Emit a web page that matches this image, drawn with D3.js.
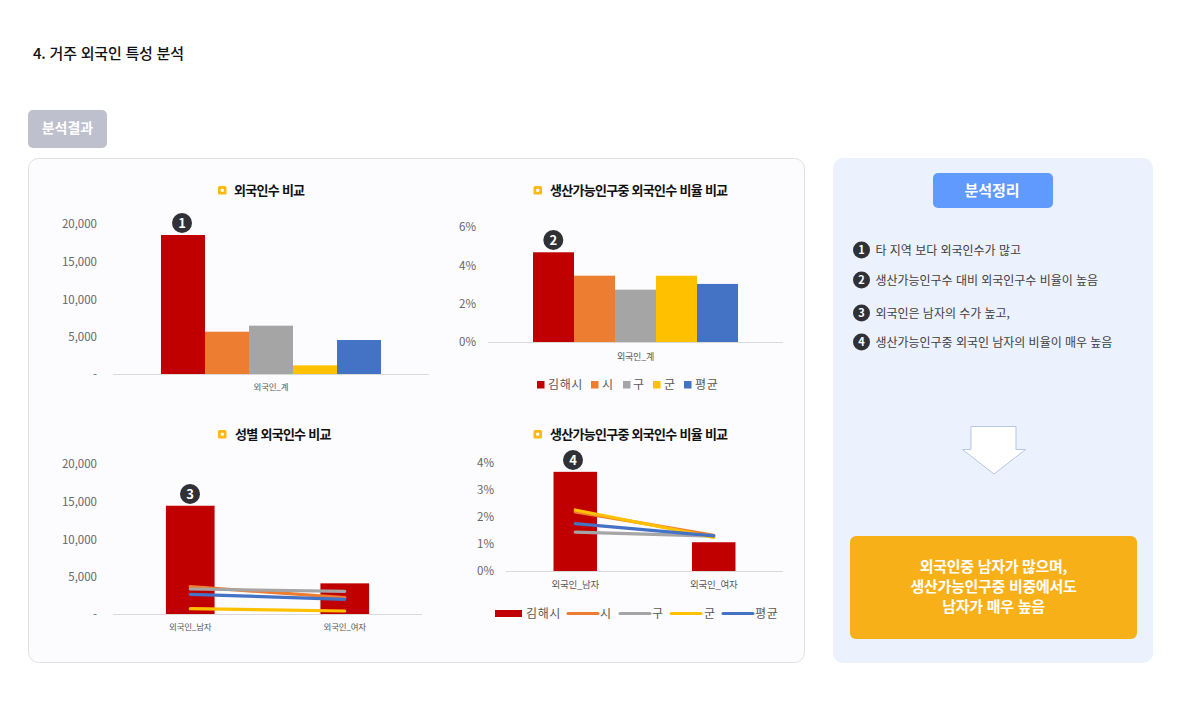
<!DOCTYPE html>
<html lang="ko"><head><meta charset="utf-8">
<script src="https://cdn.jsdelivr.net/npm/d3@7/dist/d3.min.js"></script>
<style>
html,body{margin:0;padding:0;background:#fff}
svg{display:block}
text{font-family:"Noto Sans CJK KR","Noto Sans",sans-serif}
</style></head><body>
<svg id="c" width="1181" height="709"></svg>
<script>
const seriesNames = ["김해시","시","구","군","평균"];
const seriesColors = ["#c00000","#ed7d31","#a5a5a5","#ffc000","#4472c4"];
const totalCategory = ["외국인_계"];
const genderCategories = ["외국인_남자","외국인_여자"];
const countTicks = [0,5000,10000,15000,20000];
const ratioTicks6 = [0,2,4,6];
const ratioTicks4 = [0,1,2,3,4];
const totalCounts = [18410,5600,6400,1150,4500];
const totalRatios = [4.68,3.46,2.73,3.46,3.03];
const genderCountBars = [14340,4060];
const genderCountSi = [3620,2160];
const genderCountGu = [3310,3000];
const genderCountGun = [700,400];
const genderCountAvg = [2610,1950];
const genderRatioBars = [3.69,1.07];
const genderRatioSi = [2.2,1.33];
const genderRatioGu = [1.45,1.3];
const genderRatioGun = [2.27,1.25];
const genderRatioAvg = [1.76,1.31];
const summaryItems = ["타 지역 보다 외국인수가 많고","생산가능인구수 대비 외국인구수 비율이 높음","외국인은 남자의 수가 높고,","생산가능인구중 외국인 남자의 비율이 매우 높음"];
const conclusionLines = ["외국인중 남자가 많으며,","생산가능인구중 비중에서도","남자가 매우 높음"];

const svg = d3.select("#c");
const T = (g,x,y,s,o={})=>g.append("text").attr("x",x).attr("y",y).attr("dy","0.35em")
  .attr("text-anchor",o.anchor||"start").attr("font-size",o.size||12).attr("font-weight",o.weight||400)
  .attr("fill",o.fill||"#000").attr("letter-spacing",o.ls||0).text(s);
const R = (x,y,w,h,r,fill,stroke)=>svg.append("rect").attr("x",x).attr("y",y).attr("width",w).attr("height",h).attr("rx",r)
  .attr("fill",fill).attr("stroke",stroke||"none");

// page furniture
T(svg,33,54,"4. 거주 외국인 특성 분석",{size:15,weight:500,fill:"#111",ls:-0.22});
R(28,110,79,38,5,"#bfc0ce");
T(svg,67.5,128.5,"분석결과",{size:14,weight:700,fill:"#fff",anchor:"middle",ls:0});
R(28.5,158.5,776,504,10,"#fcfcfe","#e0e0e4");
R(833,158,320,505,10,"#ebf1fd");
R(933,173,120,35,5,"#609afe");
T(svg,992,190.5,"분석정리",{size:15,weight:700,fill:"#fff",anchor:"middle",ls:0});

function badge(x,y,r,n,size){
  svg.append("circle").attr("cx",x).attr("cy",y).attr("r",r).attr("fill","#2f3136");
  T(svg,x,y,n,{size,weight:700,fill:"#fff",anchor:"middle"});
}
function title(iconX,textX,y,s){
  R(iconX,y-4,8.5,8.5,1.5,"#fdb813");
  R(iconX+2.75,y-1.25,3,3,0.5,"#fff");
  T(svg,textX,y,s,{size:13,weight:700,fill:"#111",ls:-0.72});
}
function frame(x0,x1,yBase,yTop,max,ticks,fmt,tickPad,tickDy,cats,catDy,catSize,pi,po){
  const x = d3.scaleBand().domain(cats).range([x0,x1]).paddingInner(pi).paddingOuter(po);
  const y = d3.scaleLinear().domain([0,max]).range([yBase,yTop]);
  const ya = svg.append("g").attr("transform",`translate(${x0},${tickDy})`)
    .call(d3.axisLeft(y).tickValues(ticks).tickSize(0).tickPadding(tickPad).tickFormat(fmt));
  ya.select(".domain").remove();
  ya.selectAll("text").attr("font-size",11.5).attr("fill","#666").attr("font-family",'"Noto Sans","Noto Sans CJK KR",sans-serif');
  return {x,y,x0,x1,yBase,catDy,catSize};
}
function baseline(f){
  svg.append("line").attr("x1",f.x0).attr("x2",f.x1).attr("y1",f.yBase+.5).attr("y2",f.yBase+.5)
    .attr("stroke","#d9d9d9").attr("stroke-width",1.2);
  f.x.domain().forEach(c=>T(svg,f.x(c)+f.x.bandwidth()/2,f.yBase+f.catDy,c,{size:f.catSize,fill:"#595959",anchor:"middle",ls:-0.25}));
}
function groupBars(f,vals){
  const inner = d3.scaleBand().domain(seriesNames).range([f.x(f.x.domain()[0]),f.x(f.x.domain()[0])+f.x.bandwidth()]);
  svg.append("g").selectAll("rect").data(vals).join("rect")
    .attr("x",(d,i)=>inner(seriesNames[i])).attr("width",inner.bandwidth())
    .attr("y",d=>f.y(d)).attr("height",d=>f.yBase-f.y(d)).attr("fill",(d,i)=>seriesColors[i]);
}
function comboBars(f,vals){
  svg.append("g").selectAll("rect").data(vals).join("rect")
    .attr("x",(d,i)=>f.x(f.x.domain()[i])).attr("width",f.x.bandwidth())
    .attr("y",d=>f.y(d)).attr("height",d=>f.yBase-f.y(d)).attr("fill",seriesColors[0]);
}
function comboLine(f,vals,color){
  const line = d3.line().x((d,i)=>f.x(f.x.domain()[i])+f.x.bandwidth()/2).y(d=>f.y(d));
  svg.append("path").datum(vals).attr("d",line).attr("fill","none").attr("stroke",color)
    .attr("stroke-width",3.2).attr("stroke-linecap","round");
}
const fCount = d3.format(",");
const fCountDash = d=>d===0?"-":fCount(d);
const fPct = d=>d+"%";

// chart 1
title(218,234,190,"외국인수 비교");
const f1 = frame(113,429,374,223,20000,countTicks,fCountDash,16,1,totalCategory,12.7,8.5,0,0.218);
groupBars(f1,totalCounts); baseline(f1);
badge(182,223,10,"1",13);

// chart 2
title(533.5,550,190,"생산가능인구중 외국인수 비율 비교");
const f2 = frame(488,783,342,227,6,ratioTicks6,fPct,12,0,totalCategory,14.7,9,0,0.2195);
groupBars(f2,totalRatios); baseline(f2);
badge(553.3,240,10,"2",13);
const legend1 = [[537,548],[591,602],[623,633],[653,664],[684,695]];
seriesNames.forEach((s,i)=>{
  R(legend1[i][0],381,7.5,7.5,0,seriesColors[i]);
  T(svg,legend1[i][1],384.5,s,{size:12,fill:"#595959",ls:0.6});
});

// chart 3
title(218,235,434,"성별 외국인수 비교");
const f3 = frame(113,422,614,463,20000,countTicks,fCountDash,16,1,genderCategories,12.7,8.5,0.685,0.3425);
comboBars(f3,genderCountBars); baseline(f3);
[[genderCountSi,1],[genderCountGu,2],[genderCountGun,3],[genderCountAvg,4]].forEach(([v,i])=>comboLine(f3,v,seriesColors[i]));
badge(190,494,10,"3",13);

// chart 4
title(533.5,550,434,"생산가능인구중 외국인수 비율 비교");
const f4 = frame(506,783,571,463.5,4,ratioTicks4,fPct,12,-0.5,genderCategories,14,9.5,0.686,0.343);
comboBars(f4,genderRatioBars); baseline(f4);
[[genderRatioSi,1],[genderRatioGu,2],[genderRatioGun,3],[genderRatioAvg,4]].forEach(([v,i])=>comboLine(f4,v,seriesColors[i]));
badge(573,460,10,"4",13);
const legend2 = [[495,522,526],[568,598,600],[620,650,652],[671,701,704],[723,753,755]];
seriesNames.forEach((s,i)=>{
  if(i===0) R(legend2[i][0],610,27,7,0,seriesColors[0]);
  else svg.append("line").attr("x1",legend2[i][0]).attr("x2",legend2[i][1]).attr("y1",613.5).attr("y2",613.5)
    .attr("stroke",seriesColors[i]).attr("stroke-width",3).attr("stroke-linecap","round");
  T(svg,legend2[i][2],613.5,s,{size:12,fill:"#595959",ls:0.6});
});

// summary
const listY = [250,280,313,342];
summaryItems.forEach((s,i)=>{
  badge(861.5,listY[i],8.5,String(i+1),11);
  T(svg,875.5,listY[i]+0.5,s,{size:12,fill:"#404040",ls:-0.03});
});
svg.append("path").attr("d","M971 426.5H1016V449.5H1025.5L994 474L962.5 449.5H971Z")
  .attr("fill","#fff").attr("stroke","#b4c7e7").attr("stroke-width",1);
R(850,536,287,103,6,"#f8b019");
conclusionLines.forEach((s,i)=>T(svg,993.5,567+i*20,s,{size:15,weight:700,fill:"#fff",anchor:"middle",ls:-0.3}));
</script></body></html>
